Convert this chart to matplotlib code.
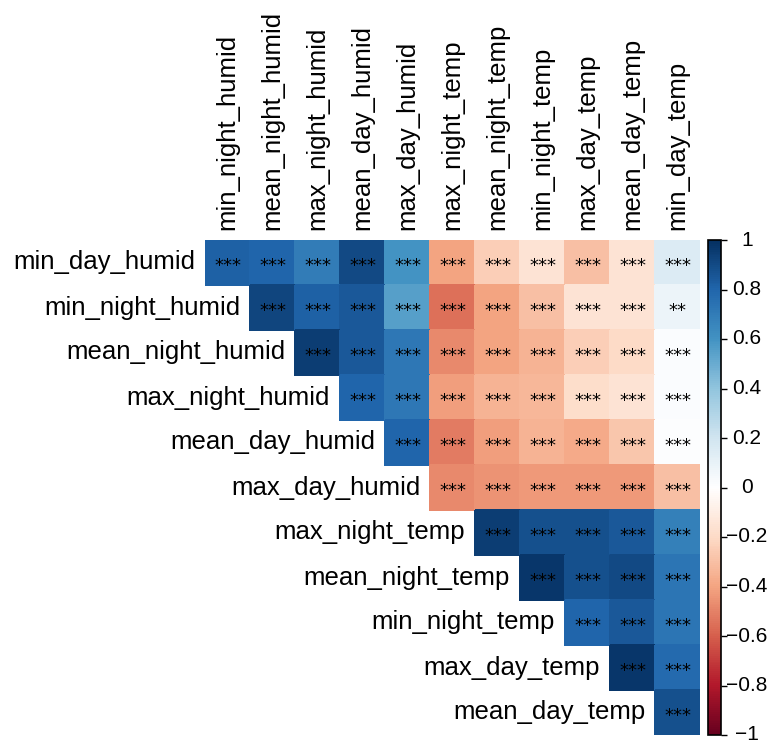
import numpy as np
import matplotlib
matplotlib.use("Agg")
import matplotlib.pyplot as plt
from matplotlib.colors import LinearSegmentedColormap
from matplotlib.transforms import blended_transform_factory

plt.rcParams["font.family"] = ["Liberation Sans", "DejaVu Sans"]

row_names = ["min_day_humid", "min_night_humid", "mean_night_humid", "max_night_humid",
             "mean_day_humid", "max_day_humid", "max_night_temp", "mean_night_temp",
             "min_night_temp", "max_day_temp", "mean_day_temp"]
col_names = ["min_night_humid", "mean_night_humid", "max_night_humid", "mean_day_humid",
             "max_day_humid", "max_night_temp", "mean_night_temp", "min_night_temp",
             "max_day_temp", "mean_day_temp", "min_day_temp"]

# correlations, row i starts at column i
corr_rows = [
    [0.82, 0.80, 0.70, 0.90, 0.60, -0.40, -0.25, -0.15, -0.30, -0.15, 0.15],
    [0.92, 0.82, 0.85, 0.55, -0.55, -0.40, -0.30, -0.15, -0.15, 0.08],
    [0.95, 0.85, 0.72, -0.48, -0.40, -0.35, -0.25, -0.20, 0.02],
    [0.80, 0.72, -0.42, -0.35, -0.33, -0.18, -0.15, 0.02],
    [0.80, -0.52, -0.42, -0.35, -0.38, -0.28, 0.01],
    [-0.48, -0.45, -0.43, -0.43, -0.43, -0.30],
    [0.95, 0.88, 0.88, 0.85, 0.68],
    [0.97, 0.88, 0.90, 0.73],
    [0.80, 0.85, 0.73],
    [0.97, 0.78],
    [0.88],
]
# significance labels (same layout)
sig_rows = [["***"] * len(r) for r in corr_rows]
sig_rows[1][-1] = "**"

cbar_ticks = [-1, -0.8, -0.6, -0.4, -0.2, 0, 0.2, 0.4, 0.6, 0.8, 1]
cbar_labels = ["\u22121", "\u22120.8", "\u22120.6", "\u22120.4", "\u22120.2", "0",
               "0.2", "0.4", "0.6", "0.8", "1"]

n = len(row_names)
mat = np.full((n, n), np.nan)
for i, r in enumerate(corr_rows):
    mat[i, i:] = r

cmap = LinearSegmentedColormap.from_list(
    "corrRdBu", ["#67001F", "#B2182B", "#D6604D", "#F4A582", "#FDDBC7", "#FFFFFF",
                 "#D1E5F0", "#92C5DE", "#4393C3", "#2166AC", "#053061"])

W, H = 771, 742
fig = plt.figure(figsize=(W / 100, H / 100), dpi=100)
ax = fig.add_axes([205 / W, (H - 735) / H, 495 / W, 495 / H])
masked = np.ma.masked_invalid(mat)
ax.pcolormesh(np.arange(n + 1), np.arange(n + 1), masked, cmap=cmap, vmin=-1, vmax=1,
              edgecolors="face", linewidth=0.2)
ax.set_xlim(0, n)
ax.set_ylim(n, 0)
ax.axis("off")

for i, r in enumerate(sig_rows):
    for k, s in enumerate(r):
        j = i + k
        ax.text(j + 0.5, i + 0.57, s, ha="center", va="center", fontsize=13,
                color="black", family="DejaVu Sans")
    ax.text(i - 0.22, i + 0.5, row_names[i], ha="right", va="center", fontsize=18.5)

trans = blended_transform_factory(ax.transData, ax.transAxes)
for j, name in enumerate(col_names):
    ax.text(j + 0.5, 1.02, name, rotation=90, ha="center", va="bottom",
            fontsize=18.5, transform=trans)

cax = fig.add_axes([708 / W, (H - 735) / H, 13 / W, 495 / H])
cb = fig.colorbar(plt.cm.ScalarMappable(norm=plt.Normalize(-1, 1), cmap=cmap), cax=cax)
cb.set_ticks(cbar_ticks)
cax.tick_params(length=4, width=1, labelright=False)
cb.outline.set_linewidth(1.2)
ctrans = blended_transform_factory(cax.transAxes, cax.transData)
for t, lab in zip(cbar_ticks, cbar_labels):
    cax.text(3.0, t, lab, ha="center", va="center", fontsize=15, transform=ctrans)

fig.savefig("out.png", dpi=100)
